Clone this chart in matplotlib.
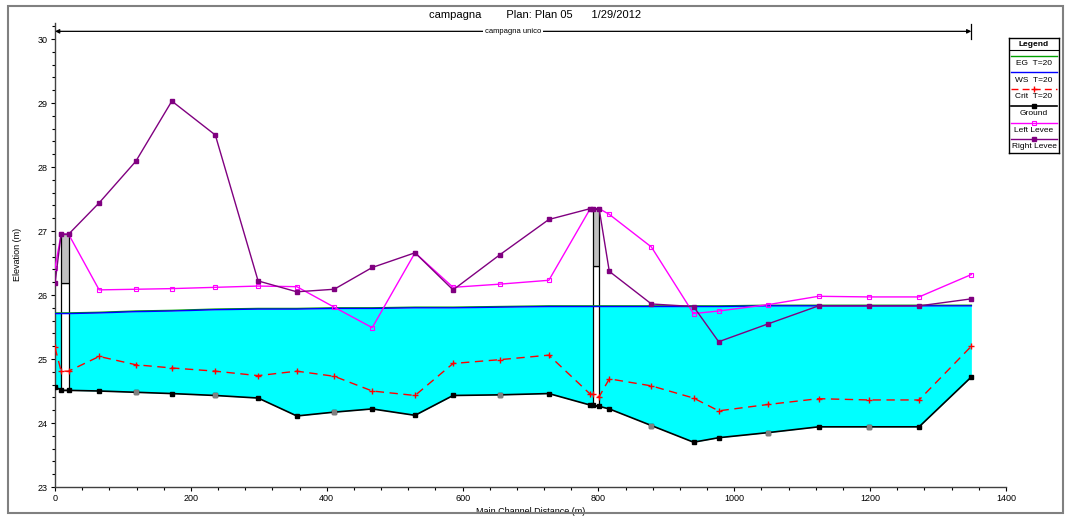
import matplotlib
matplotlib.use('Agg')
import matplotlib.pyplot as plt
from matplotlib.patches import Rectangle
from matplotlib.ticker import MultipleLocator

plt.rcParams['font.family'] = ['Liberation Sans', 'DejaVu Sans']

# river stations along the main channel (m)
station = [0, 9, 20, 65, 119, 172, 236, 299, 356, 411, 467, 530, 586, 655, 727,
           788, 792, 801, 816, 878, 940, 977, 1050, 1124, 1198, 1272, 1349]

ground = [24.57, 24.51, 24.51, 24.50, 24.48, 24.46, 24.43, 24.39, 24.11, 24.17, 24.22,
          24.12, 24.43, 24.44, 24.46, 24.28, 24.28, 24.26, 24.22, 23.96, 23.70, 23.77,
          23.85, 23.94, 23.94, 23.94, 24.72]
# sections whose ground marker is drawn grey
ground_grey = [119, 236, 411, 655, 878, 1050, 1198]

crit = [25.18, 24.81, 24.81, 25.04, 24.91, 24.86, 24.81, 24.74, 24.81, 24.73, 24.50,
        24.43, 24.93, 24.99, 25.06, 24.45, 24.45, 24.41, 24.69, 24.58, 24.39, 24.19,
        24.29, 24.38, 24.36, 24.36, 25.20]

ws = [25.71, 25.71, 25.71, 25.72, 25.74, 25.75, 25.77, 25.78, 25.78, 25.79, 25.79,
      25.80, 25.80, 25.81, 25.82, 25.82, 25.82, 25.82, 25.82, 25.82, 25.82, 25.82,
      25.83, 25.83, 25.83, 25.83, 25.83]
eg = [v + 0.01 for v in ws]

left_levee = [26.42, 26.95, 26.95, 26.08, 26.09, 26.10, 26.12, 26.14, 26.13, 25.81, 25.49,
              26.66, 26.12, 26.17, 26.23, 27.35, 27.35, 27.35, 27.26, 26.75, 25.71, 25.75,
              25.85, 25.98, 25.97, 25.97, 26.32]

right_levee = [26.18, 26.95, 26.95, 27.44, 28.09, 29.03, 28.50, 26.22, 26.05, 26.09, 26.43,
               26.66, 26.08, 26.63, 27.18, 27.35, 27.35, 27.35, 26.37, 25.86, 25.82, 25.27,
               25.55, 25.83, 25.83, 25.83, 25.94]

# bridges: upstream/downstream face, deck top, low chord, bed
bridge_us = [9, 792]
bridge_ds = [20, 801]
bridge_deck = [26.95, 27.35]
bridge_low = [26.19, 26.46]
bridge_bed = [24.51, 24.27]

W, H = 1070, 518
fig = plt.figure(figsize=(W / 100, H / 100), dpi=100)


def px_rect(x0, y0, x1, y1):
    return [x0 / W, 1 - y1 / H, (x1 - x0) / W, (y1 - y0) / H]


# outer frame and title
fig.add_artist(Rectangle((8 / W, 1 - 513 / H), (1063 - 8) / W, (513 - 6) / H,
                         transform=fig.transFigure, fill=False, ec='#808080', lw=1.5))
fig.text(535 / W, 1 - 15 / H, 'campagna        Plan: Plan 05      1/29/2012',
         ha='center', va='center', fontsize=8)

ax = fig.add_axes(px_rect(55, 22.7, 1006, 487))
ax.set_xlim(0, 1400)
ax.set_ylim(23, 30.255)

ax.fill_between(station, ground, ws, color='#00ffff', lw=0, zorder=1)

for x0, x1, top, low, bed in zip(bridge_us, bridge_ds, bridge_deck, bridge_low, bridge_bed):
    ax.add_patch(Rectangle((x0, bed), x1 - x0, low - bed, fc='white', ec='black', lw=0.9, zorder=2))
    ax.add_patch(Rectangle((x0, low), x1 - x0, top - low, fc='#c0c0c0', ec='black', lw=0.9, zorder=2))

ax.plot(station, eg, color='#00a000', lw=1, zorder=3)
ax.plot(station, ws, color='#0000ff', lw=1, zorder=3)
ax.plot(station, crit, color='red', lw=1, dashes=(6, 4), marker='+', ms=4, mew=1, zorder=4)
ax.plot(station, ground, color='black', lw=1.2, marker='s', ms=3, zorder=4)
gx = [s for s in station if s in ground_grey]
gy = [g for s, g in zip(station, ground) if s in ground_grey]
ax.plot(gx, gy, ls='none', marker='s', ms=3, color='#808080', zorder=5)
ax.plot(station, left_levee, color='#ff00ff', lw=1, marker='s', ms=3, mfc='none', mew=0.8, zorder=5)
ax.plot(station, right_levee, color='#800080', lw=1, marker='s', ms=3, zorder=5)

# reach extent marker
reach_y = 30.12
ax.annotate('', xy=(0, reach_y), xytext=(station[-1], reach_y),
            arrowprops=dict(arrowstyle='<|-|>', color='black', lw=0.9,
                            mutation_scale=6, shrinkA=0, shrinkB=0))
ax.plot([station[-1], station[-1]], [30.0, 30.24], color='black', lw=0.9)
ax.text(station[-1] / 2, reach_y, 'campagna unico', ha='center', va='center', fontsize=5.5,
        bbox=dict(fc='white', ec='none', pad=1.5))

for side in ('top', 'right'):
    ax.spines[side].set_visible(False)
for side in ('left', 'bottom'):
    ax.spines[side].set_linewidth(1.0)
    ax.spines[side].set_color('#404040')

ax.xaxis.set_major_locator(MultipleLocator(200))
ax.xaxis.set_minor_locator(MultipleLocator(40))
ax.yaxis.set_major_locator(MultipleLocator(1))
ax.yaxis.set_minor_locator(MultipleLocator(0.2))
ax.tick_params(which='major', length=3, width=0.8, labelsize=6.5, pad=2)
ax.tick_params(which='minor', length=2.2, width=0.8)

ax.set_xlabel('Main Channel Distance (m)', fontsize=6.5)
ax.xaxis.set_label_coords(0.5, -0.043)
ax.set_ylabel('Elevation (m)', fontsize=6.5)
ax.yaxis.set_label_coords(-0.035, 0.5)

# legend panel
lg = fig.add_axes(px_rect(1009, 38, 1059, 153))
lg.set_xlim(0, 50)
lg.set_ylim(115, 0)
lg.set_xticks([])
lg.set_yticks([])
for sp in lg.spines.values():
    sp.set_linewidth(1.0)
lg.text(25, 6.3, 'Legend', ha='center', va='center', fontsize=6, fontweight='bold')
lg.plot([0, 50], [12, 12], color='black', lw=0.8)

legend_labels = ['EG  T=20', 'WS  T=20', 'Crit  T=20', 'Ground', 'Left Levee', 'Right Levee']
legend_styles = [
    dict(color='#00a000', lw=1),
    dict(color='#0000ff', lw=1),
    dict(color='red', lw=1, dashes=(5, 3)),
    dict(color='black', lw=1.2),
    dict(color='#ff00ff', lw=1),
    dict(color='#800080', lw=1),
]
legend_marks = [None, None, dict(marker='+', ms=4, mew=1, color='red'),
                dict(marker='s', ms=3, color='black'),
                dict(marker='s', ms=3, mfc='none', mew=0.8, color='#ff00ff'),
                dict(marker='s', ms=3, color='#800080')]
for i, (lab, st, mk) in enumerate(zip(legend_labels, legend_styles, legend_marks)):
    yl = 17.7 + i * 16.7
    lg.plot([2, 48], [yl, yl], **st)
    if mk:
        lg.plot([25], [yl], ls='none', **mk)
    lg.text(25, yl + 7.6, lab, ha='center', va='center', fontsize=6)

fig.savefig('out.png', dpi=100)
